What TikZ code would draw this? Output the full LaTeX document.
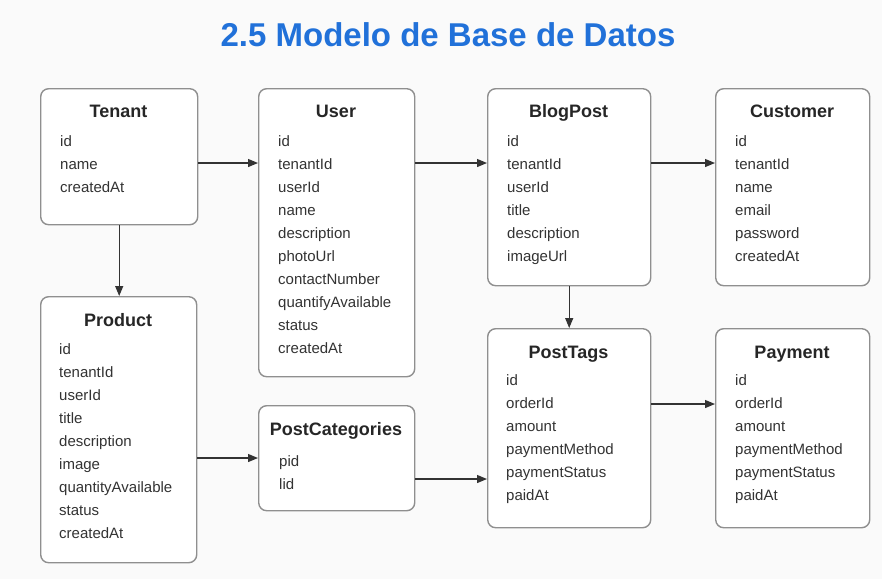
\documentclass[tikz,border=0pt]{standalone}
\usepackage{fontspec}
\setmainfont{Liberation Sans}
\usetikzlibrary{arrows.meta,positioning}
\definecolor{headblue}{HTML}{2171D9}
\definecolor{boxgray}{HTML}{8F8F8F}
\definecolor{ink}{HTML}{333333}
\definecolor{paper}{HTML}{FAFAFA}

\begin{document}
\begin{tikzpicture}[x=1pt,y=-1pt,
  tbl/.style={draw=boxgray,line width=1.4pt,rounded corners=8pt,fill=white,anchor=north west,inner sep=0pt},
  tname/.style={font=\fontsize{18}{20}\selectfont\bfseries,text=black!85,inner sep=0pt,text height=13pt,text depth=0pt},
  fld/.style={font=\fontsize{15}{17}\selectfont,text=ink,anchor=west,inner sep=0pt,text height=12pt,text depth=3pt},
  link/.style={draw=ink,line width=1.2pt,-{Triangle[length=10pt,width=8pt]}}]
\fill[paper] (0,0) rectangle (882,579);
\useasboundingbox (0,0) rectangle (882,579);
\node[font=\fontsize{33}{36}\selectfont\bfseries,text=headblue,anchor=base] (heading) at (448,46) {2.5 Modelo de Base de Datos};
% tables, top row
\node[tbl,minimum width=157pt,minimum height=136pt] (tenant) at (40,88) {};
\node[tname] (tenant-t) at (118.5,111) {Tenant};
\foreach \f [count=\i] in {id,name,createdAt}
  \node[fld] (tenant-f\i) at (60,{119+23*\i}) {\f};
\node[tbl,minimum width=156pt,minimum height=288pt] (user) at (258,88) {};
\node[tname] (user-t) at (336,111) {User};
\foreach \f [count=\i] in {id,tenantId,userId,name,description,photoUrl,contactNumber,quantifyAvailable,status,createdAt}
  \node[fld] (user-f\i) at (278,{119+23*\i}) {\f};
\node[tbl,minimum width=163pt,minimum height=197pt] (blogpost) at (487,88) {};
\node[tname] (blogpost-t) at (568.5,111) {BlogPost};
\foreach \f [count=\i] in {id,tenantId,userId,title,description,imageUrl}
  \node[fld] (blogpost-f\i) at (507,{119+23*\i}) {\f};
\node[tbl,minimum width=154pt,minimum height=197pt] (customer) at (715,88) {};
\node[tname] (customer-t) at (792,111) {Customer};
\foreach \f [count=\i] in {id,tenantId,name,email,password,createdAt}
  \node[fld] (customer-f\i) at (735,{119+23*\i}) {\f};
% tables, bottom row
\node[tbl,minimum width=156pt,minimum height=266pt] (product) at (40,296) {};
\node[tname] (product-t) at (118,320) {Product};
\foreach \f [count=\i] in {id,tenantId,userId,title,description,image,quantityAvailable,status,createdAt}
  \node[fld] (product-f\i) at (59,{327+23*\i}) {\f};
\node[tbl,minimum width=156pt,minimum height=105pt] (postcat) at (258,405) {};
\node[tname] (postcat-t) at (336,429) {PostCategories};
\foreach \f [count=\i] in {pid,lid}
  \node[fld] (postcat-f\i) at (279,{439+23*\i}) {\f};
\node[tbl,minimum width=163pt,minimum height=199pt] (posttags) at (487,328) {};
\node[tname] (posttags-t) at (568.5,352) {PostTags};
\foreach \f [count=\i] in {id,orderId,amount,paymentMethod,paymentStatus,paidAt}
  \node[fld] (posttags-f\i) at (506,{358+23*\i}) {\f};
\node[tbl,minimum width=154pt,minimum height=199pt] (payment) at (715,328) {};
\node[tname] (payment-t) at (792,352) {Payment};
\foreach \f [count=\i] in {id,orderId,amount,paymentMethod,paymentStatus,paidAt}
  \node[fld] (payment-f\i) at (735,{358+23*\i}) {\f};
% relations
\coordinate (row1) at (0,163);
\coordinate (row2) at (0,458);
\coordinate (row3) at (0,479);
\coordinate (row4) at (0,404);
\draw[link] (tenant.east |- row1) -- (user.west |- row1);
\draw[link] (user.east |- row1) -- (blogpost.west |- row1);
\draw[link] (blogpost.east |- row1) -- (customer.west |- row1);
\draw[link] (tenant.south) -- (tenant.south |- product.north);
\draw[link] (blogpost.south) -- (blogpost.south |- posttags.north);
\draw[link] (product.east |- row2) -- (postcat.west |- row2);
\draw[link] (postcat.east |- row3) -- (posttags.west |- row3);
\draw[link] (posttags.east |- row4) -- (payment.west |- row4);
\end{tikzpicture}
\end{document}
